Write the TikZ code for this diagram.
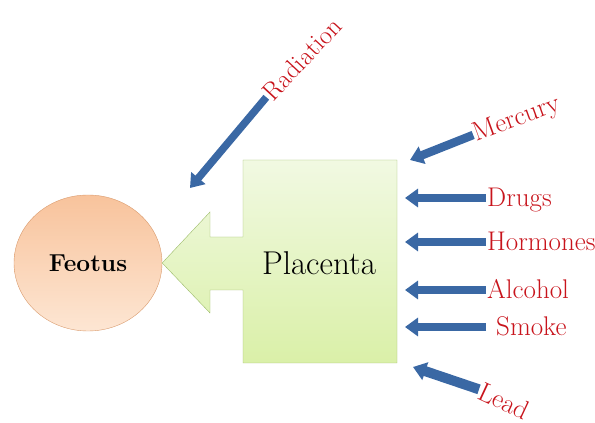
\documentclass[tikz,border=0pt]{standalone}
\usetikzlibrary{arrows.meta,positioning,shapes.geometric}
\definecolor{feotusedge}{HTML}{D99A6C}
\definecolor{feotustop}{HTML}{F8C39C}
\definecolor{feotusbottom}{HTML}{FDE6D3}
\definecolor{placentaedge}{HTML}{9DBB6A}
\definecolor{placentatop}{HTML}{F1F9E2}
\definecolor{placentabottom}{HTML}{DAF0A8}
\definecolor{agentblue}{HTML}{3A68A4}
\definecolor{agentred}{HTML}{C8141C}
\tikzset{
	agent/.style={text=agentred,inner sep=1pt,text height=19pt,text depth=1pt,font=\fontsize{27}{27}\selectfont},
	inflow/.style={draw=agentblue,line width=8.5pt,-{Triangle[width=18pt,length=13pt]}},
}

\begin{document}
\begin{tikzpicture}[x=1pt,y=1pt]
		\useasboundingbox (0,0) rectangle (595,423);
		
		\node[ellipse,draw=feotusedge,top color=feotustop,bottom color=feotusbottom,minimum width=148pt,minimum height=136pt,font=\fontsize{24.5}{24.5}\selectfont\bfseries] (feotus) at (88,160) {Feotus};
		
		\coordinate (boxnw) at (243,263);
		\coordinate (boxne) at (397,263);
		\coordinate (boxse) at (397,60);
		\coordinate (boxsw) at (243,60);
		\draw[placentaedge,top color=placentatop,bottom color=placentabottom] (boxnw)--(boxne)--(boxse)--(boxsw)--(243,133)--(210,133)--(210,110)--(feotus.east)--(210,211)--(210,186)--(243,186)--cycle;
		\node [font=\fontsize{33}{33}\selectfont] (placenta) at (319,160) {Placenta};
		
		\coordinate (rim) at (405,161);
		\coordinate (tails) at (486,161);
		\foreach \agent/\y in {Drugs/225, Hormones/181, Alcohol/133}{
			\node [agent,anchor=west] (\agent) at (486,\y) {\agent};
			\draw[inflow] (tails |- \agent.west) -- (rim |- \agent.west);
		}
		\node [agent,anchor=west] (Smoke) at (495,96) {Smoke};
		\draw[inflow] (tails |- Smoke.west) -- (rim |- Smoke.west);
		
		\node [agent,rotate=20,text height=19pt,text depth=5pt] (Mercury) at (517,304) {Mercury};
		\draw[inflow] (Mercury.west) -- ([xshift=13pt]boxne);
		
		\node [agent,rotate=-25] (Lead) at (504,22) {Lead};
		\draw[inflow,line width=10pt] (Lead.west) -- ([shift={(16,-4)}]boxse);
		
		\node [agent,rotate=47,font=\fontsize{26}{26}\selectfont] (Radiation) at (302,364) {Radiation};
		\draw[inflow,line width=7.5pt] (Radiation.west) -- ([shift={(-53,-28)}]boxnw);
\end{tikzpicture}
\end{document}
